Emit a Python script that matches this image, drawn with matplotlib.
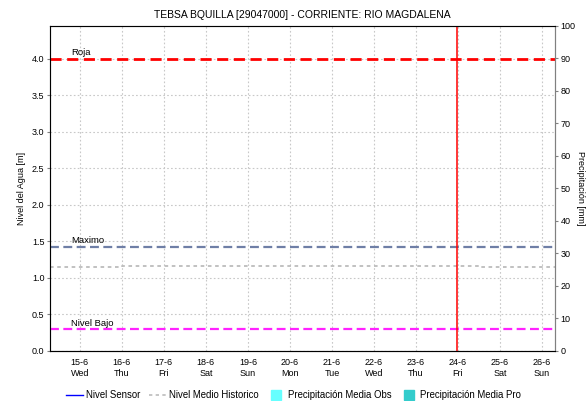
import matplotlib.pyplot as plt
from matplotlib.lines import Line2D

plt.rcParams['font.family'] = ['Liberation Sans', 'DejaVu Sans']

# days of June shown on the time axis
days = [15, 16, 17, 18, 19, 20, 21, 22, 23, 24, 25, 26]
weekdays = ['Wed', 'Thu', 'Fri', 'Sat', 'Sun', 'Mon', 'Tue', 'Wed', 'Thu', 'Fri', 'Sat', 'Sun']
tick_labels = ['%d-6\n%s' % (d, w) for d, w in zip(days, weekdays)]

# historical mean level (m), stepwise
hist_t = [14.29, 16.0, 24.5, 26.31]
hist_v = [1.15, 1.165, 1.145, 1.145]

# alert thresholds (m)
roja = 4.0
maximo = 1.43
bajo = 0.30
t_now = 23.97

fig = plt.figure(figsize=(5.87, 4.01), dpi=100)
ax = fig.add_axes([0.0852, 0.1247, 0.8603, 0.8105])

ax.plot(hist_t, hist_v, color='#bcbcbc', lw=1.3, ls=(0, (2, 2)), drawstyle='steps-post')
ax.axhline(roja, color='#ff0000', lw=2, ls=(0, (4, 2)))
ax.axhline(maximo, color='#6f7fa6', lw=1.6, ls=(0, (4, 2)))
ax.axhline(bajo, color='#ff22ff', lw=1.6, ls=(0, (4, 2)))
ax.axvline(t_now, color='#ff0000', lw=1.1)

for y, txt in [(roja, 'Roja'), (maximo, 'Maximo'), (bajo, 'Nivel Bajo')]:
    ax.text(14.79, y + 0.02, txt, fontsize=6.8, ha='left', va='bottom')

ax.set_xlim(14.29, 26.31)
ax.set_ylim(0, 4.45)
ax.set_xticks(days)
ax.set_xticklabels(tick_labels, fontsize=6.5, linespacing=1.3)
ax.set_yticks([0, 0.5, 1.0, 1.5, 2.0, 2.5, 3.0, 3.5, 4.0])
ax.set_yticklabels(['%.1f' % v for v in ax.get_yticks()], fontsize=6.5)
ax.tick_params(axis='both', length=2, width=0.8, color='#808080', pad=2)
ax.tick_params(axis='x', length=0, pad=5)
ax.grid(True, color='#c8c8c8', ls=(0, (1.5, 2)), lw=0.8)
ax.set_ylabel('Nivel del Agua [m]', fontsize=6.5, labelpad=4)
ax.set_title('TEBSA BQUILLA [29047000] - CORRIENTE: RIO MAGDALENA', fontsize=7.5, pad=6)

for s in ['left', 'right', 'top']:
    ax.spines[s].set_color('#808080')
ax.spines['bottom'].set_color('#404040')
ax.spines['bottom'].set_linestyle((0, (1, 1)))

ax2 = ax.twinx()
ax2.set_ylim(0, 100)
ax2.set_yticks(range(0, 101, 10))
ax2.tick_params(axis='y', labelsize=6.5, length=2, width=0.8, color='#808080', pad=2)
ax2.spines['right'].set_color('#808080')
ax2.set_ylabel('Precipitación [mm]', fontsize=6.5, rotation=270, labelpad=7)

handles = [
    Line2D([], [], color='#0000ff', lw=1),
    Line2D([], [], color='#bcbcbc', lw=1.2, ls=(0, (2, 2))),
    Line2D([], [], color='#66ffff', marker='s', ms=7, ls='none'),
    Line2D([], [], color='#33cccc', marker='s', ms=7, ls='none'),
]
labels = ['Nivel Sensor', 'Nivel Medio Historico', 'Precipitación Media Obs', 'Precipitación Media Pro']
fig.legend(handles, labels, loc='center', bbox_to_anchor=(0.5, 0.015), ncol=4, frameon=False,
           fontsize=6.9, handlelength=1.8, handletextpad=0.3, columnspacing=0.9)

fig.savefig('out.png', dpi=100)
